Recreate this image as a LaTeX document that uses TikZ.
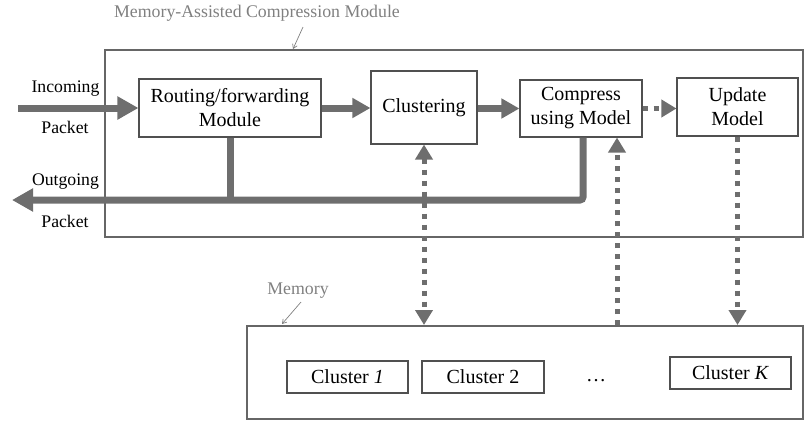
\documentclass[tikz,border=0pt]{standalone}
\usepackage{fontspec}
\setmainfont{Liberation Serif}
\usetikzlibrary{arrows.meta,calc}
\definecolor{arrgray}{HTML}{6E6E6E}
\definecolor{boxgray}{HTML}{505050}
\definecolor{outgray}{HTML}{666666}
\definecolor{labgray}{HTML}{808080}
\tikzset{
  procbox/.style={draw=boxgray, line width=1.1pt, fill=white, align=center,
    font=\fontsize{20}{24}\selectfont, inner sep=0pt},
  framebox/.style={draw=outgray, line width=2pt, inner sep=0pt},
  sidelabel/.style={font=\fontsize{17.7}{20}\selectfont, anchor=base, inner sep=0pt},
  graylabel/.style={font=\fontsize{17.8}{20}\selectfont, text=labgray, anchor=base, inner sep=0pt},
  thickline/.style={draw=arrgray, line width=7pt},
  bigarrow/.style={thickline, -{Triangle[length=21pt,width=22pt]}},
  midarrow/.style={thickline, -{Triangle[length=18pt,width=19pt]}},
  dotline/.style={draw=arrgray, line width=5pt, dash pattern=on 5pt off 6pt},
  dotarrow/.style={dotline, -{Triangle[length=15pt,width=17pt]}},
  dotarrowboth/.style={dotline, {Triangle[length=15pt,width=17pt]}-{Triangle[length=15pt,width=17pt]}},
  pointer/.style={draw=labgray, line width=0.7pt, -{Straight Barb[length=4pt,width=5pt]}},
}
\begin{document}
\begin{tikzpicture}[x=1pt,y=-1pt]
\useasboundingbox (0,0) rectangle (809,421);

% outer frames
\node[framebox, minimum width=698pt, minimum height=187pt] (Module) at (454,143.5) {};
\node[framebox, minimum width=556pt, minimum height=93pt] (Memory) at (525,372.5) {};

% frame labels
\node[graylabel] (ModLabel) at (257,17.5) {Memory-Assisted Compression Module};
\coordinate (ModPtrA) at (303,27);
\coordinate (ModPtrB) at (293,49);
\draw[pointer] (ModPtrA) -- (ModPtrB);
\node[graylabel] (MemLabel) at (298,294) {Memory};
\coordinate (MemPtrA) at (301,302);
\coordinate (MemPtrB) at (282,324);
\draw[pointer] (MemPtrA) -- (MemPtrB);

% process boxes
\node[procbox, minimum width=182pt, minimum height=58pt] (Routing) at (230,108) {Routing/forwarding\\Module};
\node[procbox, minimum width=106pt, minimum height=73pt] (Clustering) at (424,107.5) {Clustering};
\node[procbox, minimum width=122pt, minimum height=57pt] (Compress) at (581,108.5) {Compress\\using Model};
\node[procbox, minimum width=121pt, minimum height=58pt] (Update) at (737.5,107) {Update\\Model};

% clusters
\node[procbox, minimum width=121pt, minimum height=32pt] (C1) at (347.5,377) {Cluster \textit{1}};
\node[procbox, minimum width=122pt, minimum height=32pt] (C2) at (483,377) {Cluster 2};
\node[procbox, minimum width=121pt, minimum height=32pt] (CK) at (730.5,373) {Cluster \textit{K}};
\node[font=\fontsize{20}{24}\selectfont, anchor=base, inner sep=0pt] (Dots) at (596,381.5) {\ldots};

% side labels
\node[sidelabel] (InA) at (65.5,92) {Incoming};
\node[sidelabel] (InB) at (65,133) {Packet};
\node[sidelabel] (OutA) at (65.5,185) {Outgoing};
\node[sidelabel] (OutB) at (65,227) {Packet};

% main flow
\coordinate (InStart) at (18,108);
\coordinate (OutTip) at (12,200);
\draw[bigarrow] (InStart) -- (Routing.west);
\draw[midarrow] (Routing.east) -- (Routing.east -| Clustering.west);
\draw[midarrow] (Clustering.east |- Compress.west) -- (Compress.west);
\draw[dotarrow] (Compress.east) -- (Compress.east -| Update.west);

% outgoing path
\draw[thickline] (Routing.south) -- (Routing.south |- OutTip);
\draw[bigarrow, rounded corners=3pt] ([xshift=2pt]Compress.south) |- (OutTip);

% memory links
\coordinate (CompX) at (617,0);
\draw[dotarrowboth] (Clustering.south) -- (Clustering.south |- Memory.north);
\draw[dotarrow] (CompX |- Memory.north) -- (CompX |- Compress.south);
\draw[dotarrow] (Update.south) -- (Update.south |- Memory.north);
\end{tikzpicture}
\end{document}
